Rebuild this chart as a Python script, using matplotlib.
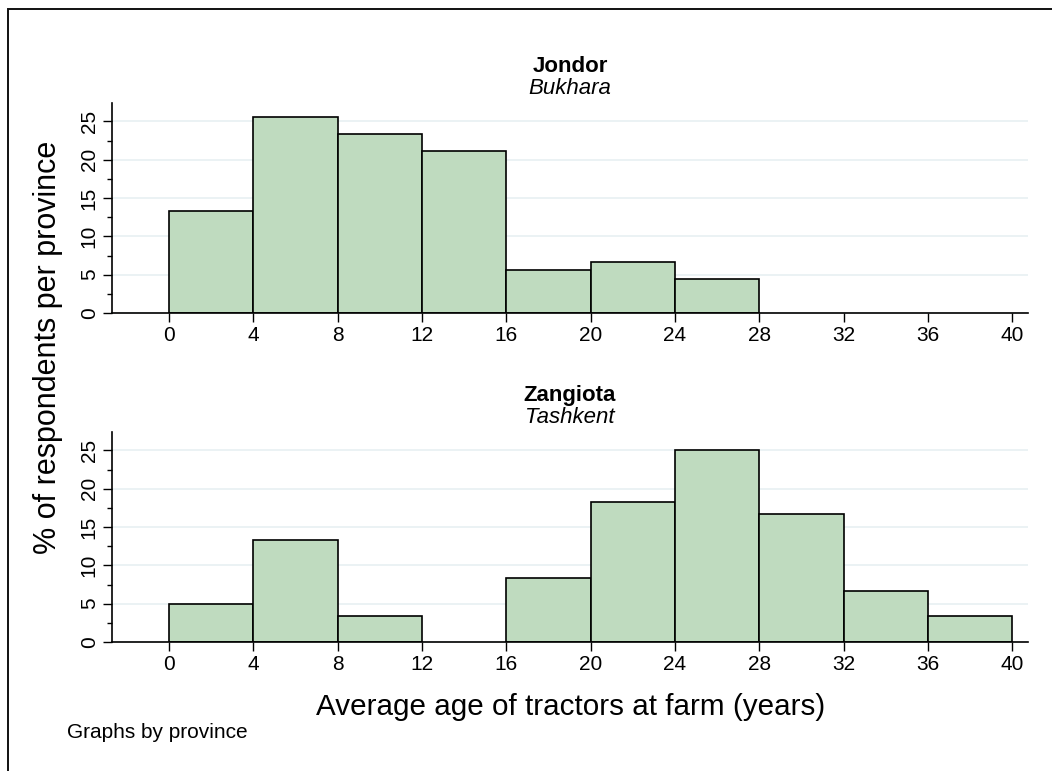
import numpy as np
import matplotlib
matplotlib.use('Agg')
import matplotlib.pyplot as plt
from matplotlib.ticker import MultipleLocator
from matplotlib.patches import Rectangle

plt.rcParams['font.family'] = ['Liberation Sans', 'DejaVu Sans']

# histogram bins (years) and % of respondents per province
bin_edges = [0, 4, 8, 12, 16, 20, 24, 28, 32, 36, 40]
jondor_pct = [13.33, 25.56, 23.33, 21.11, 5.56, 6.67, 4.44, 0, 0, 0]
zangiota_pct = [5.0, 13.33, 3.33, 0, 8.33, 18.33, 25.0, 16.67, 6.67, 3.33]
panels = [('Jondor', 'Bukhara', jondor_pct), ('Zangiota', 'Tashkent', zangiota_pct)]
x_ticks = [0, 4, 8, 12, 16, 20, 24, 28, 32, 36, 40]
y_ticks = [0, 5, 10, 15, 20, 25]

W, H = 1052, 771
bar_color = '#bfdbbf'
grid_color = '#e9f1f3'

def px_rect(l, t, r, b):
    return [l / W, 1 - b / H, (r - l) / W, (b - t) / H]

fig = plt.figure(figsize=(W / 100, H / 100), dpi=100)

# outer frame (cut by image edge like the original)
fig.patches.append(Rectangle((8 / W, -0.05), 1.1, 1 - 9 / H + 0.05, transform=fig.transFigure,
                             fill=False, edgecolor='#111111', lw=1.4, clip_on=False))

ax_boxes = [(112, 103, 1028, 313), (112, 432, 1028, 642)]
title_y = [(66, 88), (396, 418)]

for (name, prov, vals), box, (ty1, ty2) in zip(panels, ax_boxes, title_y):
    ax = fig.add_axes(px_rect(*box))
    lefts = np.array(bin_edges[:-1])
    vals = np.array(vals)
    keep = vals > 0
    ax.bar(lefts[keep], vals[keep], width=4, align='edge', color=bar_color,
           edgecolor='black', linewidth=1.2, zorder=3)
    ax.set_xlim(-2.7, 40.75)
    ax.set_ylim(0, 27.4)
    ax.set_xticks(x_ticks)
    ax.set_yticks(y_ticks)
    ax.yaxis.set_minor_locator(MultipleLocator(2.5))
    ax.set_yticklabels([str(v) for v in y_ticks], rotation=90, va='center')
    ax.tick_params(axis='both', which='major', labelsize=15, length=6.5, width=1, color='black')
    ax.tick_params(axis='y', which='minor', length=3.5, width=1)
    ax.tick_params(axis='x', pad=3)
    ax.tick_params(axis='y', pad=3)
    ax.grid(axis='y', color=grid_color, lw=1.3, zorder=0)
    ax.set_axisbelow(True)
    for s in ['top', 'right']:
        ax.spines[s].set_visible(False)
    for s in ['left', 'bottom']:
        ax.spines[s].set_linewidth(1.2)
        ax.spines[s].set_zorder(4)
    cx = (box[0] + box[2]) / 2 / W
    fig.text(cx, 1 - ty1 / H, name, ha='center', va='center', fontsize=16, fontweight='bold')
    fig.text(cx, 1 - ty2 / H, prov, ha='center', va='center', fontsize=16, style='italic')

fig.text(48 / W, 1 - 347 / H, '% of respondents per province', rotation=90,
         ha='center', va='center', fontsize=22)
fig.text(571 / W, 1 - 707 / H, 'Average age of tractors at farm (years)',
         ha='center', va='center', fontsize=21.3)
fig.text(67 / W, 1 - 733 / H, 'Graphs by province', ha='left', va='center', fontsize=15)

fig.savefig('out.png', dpi=100)
